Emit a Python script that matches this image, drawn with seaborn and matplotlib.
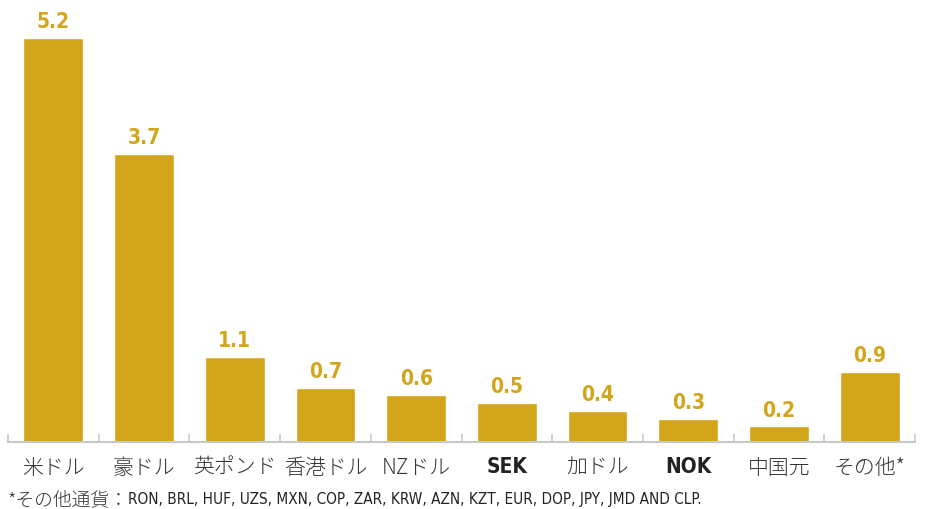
import matplotlib
matplotlib.use("Agg")
import matplotlib.pyplot as plt
import pandas as pd
import seaborn as sns

# currency shares (%)
categories = ["米ドル", "豪ドル", "英ポンド", "香港ドル", "NZドル", "SEK", "加ドル", "NOK", "中国元", "その他*"]
values = [5.2, 3.7, 1.1, 0.7, 0.6, 0.5, 0.4, 0.3, 0.2, 0.9]
footnote_jp = "*その他通貨："
footnote_codes = "RON, BRL, HUF, UZS, MXN, COP, ZAR, KRW, AZN, KZT, EUR, DOP, JPY, JMD AND CLP."

gold = "#D2A51B"
narrow = ["DejaVu Sans", "Noto Sans CJK JP"]
jp = ["Noto Sans CJK JP", "DejaVu Sans"]

sns.set_style("white")
plt.rcParams["font.family"] = jp

df = pd.DataFrame({"currency": categories, "share": values})

fig = plt.figure(figsize=(9.33, 5.10), dpi=100)
ax = fig.add_axes([8 / 933, 67 / 510, 907 / 933, 443 / 510])

sns.barplot(df, x="currency", y="share", color=gold, saturation=1, width=0.66, ax=ax)

ax.set_xlim(-0.5, len(categories) - 0.5)
ax.set_ylim(0, 5.70)
ax.set_xlabel("")
ax.set_ylabel("")
ax.set_yticks([])

for c in ax.containers:
    ax.bar_label(c, fmt="%.1f", padding=5, color=gold, fontsize=15,
                 fontweight="bold", family=narrow, fontstretch="condensed")

# tick labels, latin codes in bold condensed
ax.tick_params(axis="x", which="major", length=0, pad=10)
for lbl in ax.get_xticklabels():
    if lbl.get_text() in ("SEK", "NOK"):
        lbl.set_family(narrow)
        lbl.set_fontstretch("condensed")
        lbl.set_fontweight("bold")
        lbl.set_fontsize(15)
        lbl.set_color("#222222")
    else:
        lbl.set_family(jp)
        lbl.set_fontsize(15)
        lbl.set_fontweight("light")
        lbl.set_color("#333333")

# separator ticks between categories
ax.set_xticks([i - 0.5 for i in range(len(categories) + 1)], minor=True)
ax.tick_params(axis="x", which="minor", bottom=True, direction="in", length=6,
               width=1.2, color="#c8c8c8")

sns.despine(ax=ax, left=True)
ax.spines["bottom"].set_color("#c8c8c8")
ax.spines["bottom"].set_linewidth(1.5)

fig.text(8 / 933, 10 / 510, footnote_jp, fontsize=13.5, family=jp, fontweight="light",
         color="#333333", ha="left", va="center")
fig.text(128 / 933, 10 / 510, footnote_codes, fontsize=11, family=narrow,
         fontstretch="condensed", color="#222222", ha="left", va="center")

plt.savefig("out.png", dpi=100)
